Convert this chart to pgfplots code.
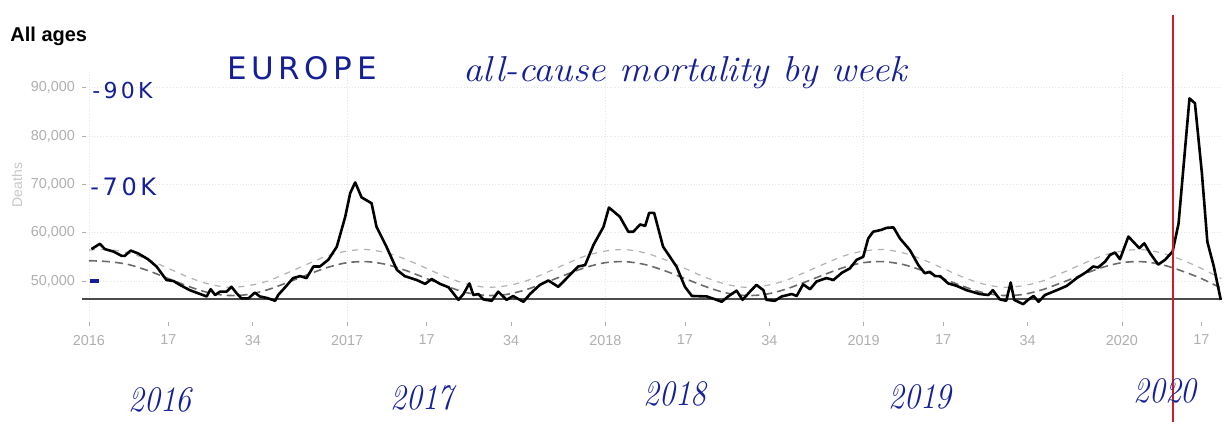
\documentclass[border=0pt]{standalone}
\usepackage{fontspec}
\usepackage{pgfplots}
\pgfplotsset{compat=1.18}
\newfontfamily\uisans{Liberation Sans}
\newfontfamily\hand[LetterSpace=15]{DejaVu Sans}
\newfontfamily\script{Latin Modern Roman}
\definecolor{ink}{RGB}{22,32,150}
\definecolor{markred}{RGB}{205,30,40}
\definecolor{tickgray}{RGB}{175,175,175}

% weekly deaths, x = weeks since 2016 week 1
\pgfplotstableread{
w v
0.5 56600
2.2 57700
3.2 56600
4.9 56100
6.6 55200
7.2 55200
8.4 56300
9.9 55700
11.9 54500
13.6 53000
15.6 50200
17 50000
18.3 49200
20.3 48100
22.4 47300
23.7 46800
24.5 48300
25.4 47100
26.4 47800
27.7 47800
28.7 48800
29.7 47500
30.7 46400
32.1 46400
33.4 47600
34.4 46800
35.8 46500
37.5 45900
38.1 47100
39.5 48700
41.1 50600
42.5 51000
43.8 50600
45.2 53000
46.5 53000
48.2 54400
49.9 57100
51.6 63300
52.6 68200
53.6 70400
54.9 67300
56.9 66100
57.9 61200
59.9 57100
62.0 52300
63.6 51000
66.0 50200
67.7 49400
69.0 50400
70.7 49400
72.4 48700
74.4 46100
75.4 47300
76.6 49500
77.4 47100
78.4 47300
79.4 46200
81.1 45900
82.4 47800
84.1 46100
85.4 46900
86.4 46300
87.5 45700
88.8 47300
90.8 49200
92.5 50100
94.5 48800
96.5 50900
98.5 53000
99.9 53300
101.6 57500
103.6 61200
104.7 65200
106.9 63300
108.6 60200
109.6 60200
111.0 61700
112.0 61400
112.8 64100
113.8 64100
115.6 57100
118.3 53000
120.0 48800
121.4 46900
124.4 46800
126.1 46200
127.4 45700
128.7 46800
130.4 48000
131.6 46100
133.1 47800
134.4 49200
135.8 48100
136.4 46100
138.1 45900
139.5 46800
141.5 47300
142.5 46900
143.8 49300
145.2 48300
146.5 49900
148.5 50600
149.9 50200
151.6 51700
153.2 52600
154.6 54400
155.9 55000
156.9 58800
157.9 60200
159.6 60600
160.6 61000
162.0 61100
163.3 58800
165.3 56400
167.0 53300
168.3 51600
169.3 51900
170.4 51000
171.4 51000
173.0 49500
174.7 49000
176.7 48100
179.4 47300
181.1 47100
182.0 48100
183.4 46200
184.7 45900
185.6 49700
186.3 46100
188.1 45200
189.1 46100
190.2 46900
191.2 45700
192.5 47100
194.9 48100
196.9 49000
198.9 50600
200.9 51900
202.2 53000
203.2 52800
204.6 54000
205.6 55400
206.6 55900
207.6 54500
209.3 59200
210.3 58100
211.5 56800
212.5 57800
213.7 55700
215.3 53400
216.7 54400
218.2 56100
219.4 61900
220.4 73700
221.6 87800
222.7 86800
224.1 72300
225.2 58100
226.5 53000
227.9 46100
}\deaths

% seasonal baseline (lower dashed) and upper threshold (light dashed)
\pgfplotstableread{
w lo hi
0 54200 56400
4 54000 56500
8 53400 55800
12 52100 54400
16 50500 52600
20 48900 50800
24 47600 49400
28 47000 48700
32 47200 49000
36 48200 50000
40 49700 51700
44 51300 53500
48 52800 55200
52 53800 56200
56 54000 56500
60 53400 55800
64 52100 54400
68 50500 52600
72 48900 50800
76 47600 49400
80 47000 48700
84 47200 49000
88 48200 50000
92 49700 51700
96 51300 53500
100 52800 55200
104 53800 56200
108 54000 56500
112 53400 55800
116 52100 54400
120 50500 52600
124 48900 50800
128 47600 49400
132 47000 48700
136 47200 49000
140 48200 50000
144 49700 51700
148 51300 53500
152 52800 55200
156 53800 56200
160 54000 56500
164 53400 55800
168 52100 54400
172 50500 52600
176 48900 50800
180 47600 49400
184 47000 48700
188 47200 49000
192 48200 50000
196 49700 51700
200 51300 53500
204 52800 55200
208 53800 56200
212 54000 56500
216 53400 55800
220 52100 54400
224 50500 52600
228 48500 50500
}\bands

\begin{document}
\begin{tikzpicture}
\useasboundingbox (0,0) rectangle (612.5pt,211pt);
\begin{axis}[
    at={(43pt,50pt)}, anchor=south west,
    scale only axis, width=568pt, height=125pt,
    xmin=-0.6, xmax=228.15, ymin=41513, ymax=93263,
    clip=false,
    axis line style={draw=none},
    tick align=outside, xtick pos=bottom, ytick pos=left,
    major tick length=2pt,
    tick style={tickgray, thin},
    xtick={0,52,104,156,208},
    xticklabels={2016,2017,2018,2019,2020},
    extra x ticks={16,33,68,85,120,137,172,189,224},
    extra x tick labels={17,34,17,34,17,34,17,34,17},
    extra x tick style={grid=none},
    ytick={50000,60000,70000,80000,90000},
    scaled y ticks=false,
    /pgf/number format/.cd, 1000 sep={,}, assume math mode=true,
    /pgfplots/.cd,
    ticklabel style={font=\uisans\fontsize{7.2}{8}\selectfont, text=tickgray},
    x tick label style={yshift=-1pt},
    xmajorgrids, ymajorgrids,
    grid style={black!10, densely dotted},
  ]
  \addplot[black!30, line width=0.6pt, dash pattern=on 3pt off 3pt, smooth] table[x=w, y=hi] {\bands};
  \addplot[black!58, line width=0.8pt, dash pattern=on 4pt off 2.5pt, smooth] table[x=w, y=lo] {\bands};
  \addplot[black!70, line width=0.8pt] coordinates {(-1.4,46300) (228.2,46300)};
  \addplot[black, line width=1.3pt, line join=round] table[x=w, y=v] {\deaths};
  \addplot[markred, line width=0.9pt] coordinates {(218.3,20800) (218.3,105000)};
\end{axis}
\begin{scope}[x=0.5pt, y=0.5pt]
  \node[anchor=west, inner sep=0pt, font=\uisans\bfseries\fontsize{10}{12}\selectfont] at (10,386) {All ages};
  \node[rotate=90, inner sep=0pt, text=black!22, font=\uisans\fontsize{7}{8}\selectfont] at (17,237) {Deaths};
  \node[ink, inner sep=0pt, font=\hand\fontsize{15.5}{18}\selectfont] at (302,354) {EUROPE};
  \node[ink, inner sep=0pt, xscale=1.07, font=\script\itshape\fontsize{18}{20}\selectfont] at (685,349) {all-cause mortality by week};
  \node[ink, anchor=west, inner sep=0pt, font=\hand\fontsize{11}{12}\selectfont] at (92,332) {-90K};
  \node[ink, anchor=west, inner sep=0pt, font=\hand\fontsize{12}{13}\selectfont] at (90,235) {-70K};
  \draw[ink, line width=2pt] (90,141) -- (99,141);
  \node[ink, inner sep=0pt, xscale=0.88, font=\script\itshape\fontsize{18}{20}\selectfont] at (160,22) {2016};
  \node[ink, inner sep=0pt, xscale=0.88, font=\script\itshape\fontsize{18}{20}\selectfont] at (422,24) {2017};
  \node[ink, inner sep=0pt, xscale=0.88, font=\script\itshape\fontsize{18}{20}\selectfont] at (675,28) {2018};
  \node[ink, inner sep=0pt, xscale=0.88, font=\script\itshape\fontsize{18}{20}\selectfont] at (920,25) {2019};
  \node[ink, inner sep=0pt, xscale=0.88, font=\script\itshape\fontsize{18}{20}\selectfont] at (1165,31) {2020};
\end{scope}
\end{tikzpicture}
\end{document}
